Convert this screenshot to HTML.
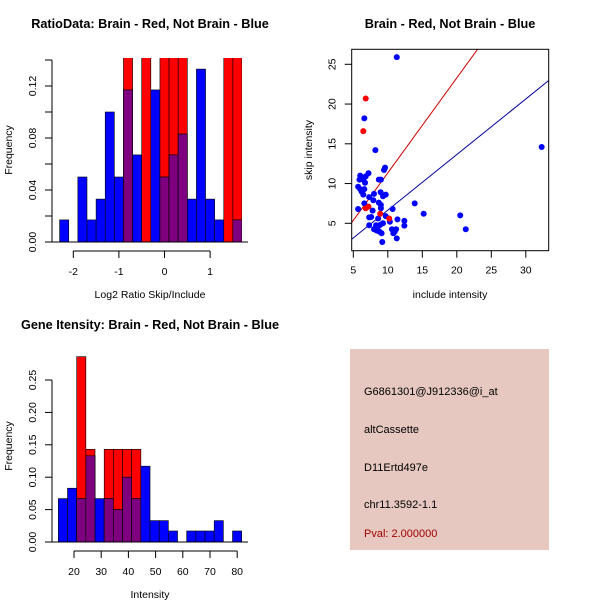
<!DOCTYPE html>
<html><head><meta charset="utf-8"><style>
html,body{margin:0;padding:0;background:#fff}
svg{display:block;font-family:"Liberation Sans",Arial,sans-serif}
</style></head><body>
<svg id="s" width="600" height="600" xmlns="http://www.w3.org/2000/svg">
<rect x="350" y="349" width="199" height="201" fill="#e6c8c0"/>
<g font-size="11" fill="#000">
<text x="364" y="395">G6861301@J912336@i_at</text>
<text x="364" y="433">altCassette</text>
<text x="364" y="471">D11Ertd497e</text>
<text x="364" y="508">chr11.3592-1.1</text>
<text x="364" y="537" fill="#a00000">Pval: 2.000000</text>
</g>
</svg>
<script>
// Ratio histogram data
const ratioBinStart = -2.3, ratioBinWidth = 0.2;
const ratioBlue = [0.017,0,0.05,0.017,0.033,0.1,0.05,0.117,0.067,0,0.117,0.05,0.067,0.083,0.033,0.133,0.033,0.017,0,0.017];
const ratioRed  = [0,0,0,0,0,0,0,0.167,0,0.167,0,0.167,0.167,0.167,0,0,0,0,0.167,0.167];
const ratioXTicks = [-2,-1,0,1];
const ratioYTicks = [0,0.02,0.04,0.06,0.08,0.10,0.12,0.14];
const ratioYLabels = ["0.00","","0.04","","0.08","","0.12",""];
// Intensity histogram data
const intBinStart = 14.25, intBinWidth = 3.37;
const intBlue = [0.067,0.083,0.067,0.133,0.067,0.067,0.05,0.1,0.067,0.117,0.033,0.033,0.017,0,0.017,0.017,0.017,0.033,0,0.017];
const intRed  = [0,0,0.286,0.143,0,0.143,0.143,0.143,0.143,0,0,0,0,0,0,0,0,0,0,0];
const intXTicks = [20,30,40,50,60,70,80];
const intYTicks = [0,0.05,0.10,0.15,0.20,0.25];
const intYLabels = ["0.00","0.05","0.10","0.15","0.20","0.25"];
// Scatter data
const blueX = [11.3,6.6,8.2,32.3,9.6,9.45,7.2,6.8,6.0,6.2,5.9,6.45,6.7,9.0,8.7,5.7,6.0,6.6,6.2,6.45,8.0,9.7,9.3,8.96,7.3,7.9,6.6,8.7,9.0,13.9,5.7,7.8,9.0,10.7,15.2,20.5,9.7,7.6,7.3,8.6,11.4,12.4,10.3,9.3,8.9,7.3,8.3,8.5,12.4,8.0,10.6,11.2,21.3,11.0,8.8,9.1,11.3,9.2,8.4,10.8];
const blueY = [25.9,18.2,14.2,14.6,12.0,11.7,11.3,10.9,11.0,10.7,10.5,10.5,10.1,10.5,10.5,9.6,9.3,9.3,9.0,8.6,8.7,8.6,8.4,8.9,8.3,7.9,7.5,7.6,7.3,7.5,6.8,6.6,6.9,6.8,6.2,6.0,5.9,5.8,5.75,5.6,5.5,5.3,5.2,5.0,4.8,4.75,4.75,4.5,4.7,4.25,4.25,4.25,4.25,3.95,3.95,3.75,3.1,2.65,4.1,3.75];
const redX = [6.8,6.45,7.2,6.8,8.9,10.2];
const redY = [20.7,16.6,7.1,6.9,6.2,5.6];
const redLine = [-0.61,1.195];   // intercept, slope
const blueLine = [-0.33,0.699];
const scXTicks = [5,10,15,20,25,30];
const scYTicks = [5,10,15,20,25];

const NS="http://www.w3.org/2000/svg";
const svg=document.getElementById('s');
function mk(tag,attrs,parent){const e=document.createElementNS(NS,tag);for(const k in attrs)e.setAttribute(k,attrs[k]);(parent||svg).appendChild(e);return e;}
function txt(x,y,s,opts,parent){const t=mk('text',Object.assign({x:x,y:y,'font-size':10.5,'text-anchor':'middle'},opts||{}),parent);t.textContent=s;return t;}

function histogram(cfg){
  const g=mk('g',{});
  
  
  const sx=v=>cfg.x0+(v-cfg.xv0)*cfg.xs;
  const sy=v=>cfg.y0-v*cfg.ys;
  const clipId=cfg.name+'-clip';
  const cp=mk('clipPath',{id:clipId},g);
  mk('rect',{x:cfg.left,y:cfg.top,width:cfg.right-cfg.left,height:cfg.y0-cfg.top+1},cp);
  const bars=mk('g',{'clip-path':'url(#'+clipId+')'},g);
  for(let i=0;i<cfg.blue.length;i++){
    const xl=sx(cfg.bs+i*cfg.bw), xr=sx(cfg.bs+(i+1)*cfg.bw);
    const b=cfg.blue[i], r=cfg.red[i], m=Math.min(b,r);
    if(r>0){const e=mk('rect',{x:xl,y:sy(r),width:xr-xl,height:sy(0)-sy(r),fill:'#ff0000',stroke:'#000','stroke-width':0.6},bars);
      
      }
    if(b>0){const e=mk('rect',{x:xl,y:sy(b),width:xr-xl,height:sy(0)-sy(b),fill:'#0000ff',stroke:'#000','stroke-width':0.6},bars);
      
      }
    if(m>0){const e=mk('rect',{x:xl,y:sy(m),width:xr-xl,height:sy(0)-sy(m),fill:'#7f007f',stroke:'#000','stroke-width':0.6},bars);
      
      }
  }
  const yt=cfg.yticks;
  mk('line',{x1:cfg.left,x2:cfg.left,y1:sy(yt[0]),y2:sy(yt[yt.length-1]),stroke:'#000'},g);
  yt.forEach((v,i)=>{mk('line',{x1:cfg.left,x2:cfg.left-7,y1:sy(v),y2:sy(v),stroke:'#000'},g);
    if(cfg.ylabels[i]){const y=sy(v),x=cfg.left-16;txt(x,y,cfg.ylabels[i],{transform:'rotate(-90 '+x+' '+y+')'},g);}});
  const xt=cfg.xticks, ay=cfg.y0+9;
  mk('line',{x1:sx(xt[0]),x2:sx(xt[xt.length-1]),y1:ay,y2:ay,stroke:'#000'},g);
  xt.forEach(v=>{mk('line',{x1:sx(v),x2:sx(v),y1:ay,y2:ay+7,stroke:'#000'},g);txt(sx(v),ay+24,String(v),{},g);});
  mk('line',{x1:cfg.left,x2:cfg.right+6,y1:cfg.y0,y2:cfg.y0,stroke:'#000'},g);
  const t=txt(150,cfg.titleY,cfg.title,{'font-weight':'bold','font-size':12.7},g);
  
  
  const xl=txt(150,cfg.xlabY,cfg.xlab,{},g);
  
  
  const cy=(cfg.top+cfg.y0)/2;
  const yl=txt(12,cy,'Frequency',{transform:'rotate(-90 12 '+cy+')'},g);
  
  
}

histogram({name:'ratio-histogram',blue:ratioBlue,red:ratioRed,bs:ratioBinStart,bw:ratioBinWidth,
  x0:73.3,xv0:-2,xs:45.6,y0:242,ys:1300,left:52,right:242,top:58,
  xticks:ratioXTicks,yticks:ratioYTicks,ylabels:ratioYLabels,
  title:'RatioData: Brain - Red, Not Brain - Blue',titleY:28,xlab:'Log2 Ratio Skip/Include',xlabY:298});
histogram({name:'intensity-histogram',blue:intBlue,red:intRed,bs:intBinStart,bw:intBinWidth,
  x0:74,xv0:20,xs:2.72,y0:542,ys:648,left:52,right:242,top:350,
  xticks:intXTicks,yticks:intYTicks,ylabels:intYLabels,
  title:'Gene Itensity: Brain - Red, Not Brain - Blue',titleY:329,xlab:'Intensity',xlabY:598});

(function(){
  const g=mk('g',{});
  
  
  const L=351.7,R=548.7,T=49.3,B=250.7;
  const sx=v=>353.3+(v-5)*6.9;
  const sy=v=>223.3-(v-5)*7.95;
  const cp=mk('clipPath',{id:'sc-clip'},g);
  mk('rect',{x:L,y:T,width:R-L,height:B-T},cp);
  const inner=mk('g',{'clip-path':'url(#sc-clip)'},g);
  const xa=4,xb=34;
  [[redLine,'#cc0000','red-fit-line'],[blueLine,'#000099','blue-fit-line']].forEach(([c,col,nm])=>{
    const l=mk('line',{x1:sx(xa),y1:sy(c[0]+c[1]*xa),x2:sx(xb),y2:sy(c[0]+c[1]*xb),stroke:col,'stroke-width':1},inner);
    
    
  });
  blueX.forEach((x,i)=>{const c=mk('circle',{cx:sx(x),cy:sy(blueY[i]),r:3,fill:'#0000ff'},inner);
    
    });
  redX.forEach((x,i)=>{const c=mk('circle',{cx:sx(x),cy:sy(redY[i]),r:3,fill:'#ff0000'},inner);
    
    });
  mk('rect',{x:L,y:T,width:R-L,height:B-T,fill:'none',stroke:'#000'},g);
  scXTicks.forEach(v=>{mk('line',{x1:sx(v),x2:sx(v),y1:B,y2:B+7,stroke:'#000'},g);txt(sx(v),B+23,String(v),{},g);});
  scYTicks.forEach(v=>{mk('line',{x1:L,x2:L-7,y1:sy(v),y2:sy(v),stroke:'#000'},g);
    const x=L-16,y=sy(v);txt(x,y,String(v),{transform:'rotate(-90 '+x+' '+y+')'},g);});
  const t=txt(450,28,'Brain - Red, Not Brain - Blue',{'font-weight':'bold','font-size':12.7},g);
  
  
  const xl=txt(450,298,'include intensity',{},g);
  
  
  const cy=(T+B)/2;
  const yl=txt(312,cy,'skip intensity',{transform:'rotate(-90 312 '+cy+')'},g);
  
  
})();
</script>
</body></html>
